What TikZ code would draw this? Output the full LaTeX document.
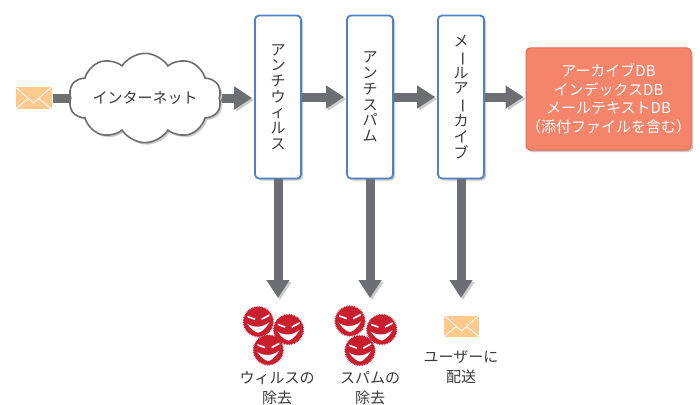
\documentclass[tikz,border=0pt]{standalone}
\usepackage{fontspec}
\usepackage{graphicx}
\setmainfont{Noto Sans CJK JP}
\usetikzlibrary{arrows.meta,shapes.symbols,decorations.pathmorphing,shadows}

\definecolor{arrowgray}{HTML}{6D6E71}
\definecolor{shadowgray}{HTML}{CBCBCB}
\definecolor{boxblue}{HTML}{4F81C7}
\definecolor{dbfill}{HTML}{F4846A}
\definecolor{dbline}{HTML}{E8684E}
\definecolor{mailfill}{HTML}{FDC98C}
\definecolor{virusred}{HTML}{C81E2D}
\definecolor{textgray}{HTML}{3A3A3A}

% vertical long-vowel mark for stacked (vertical) katakana
\newcommand\vchoon{\makebox[1em]{\rotatebox[origin=c]{-90}{ー}}}

\pgfdeclarelayer{bg}
\pgfsetlayers{bg,main}

\tikzset{
  softshadow/.style={drop shadow={shadow xshift=2pt, shadow yshift=-2pt, fill=shadowgray, opacity=1}},
  stagebox/.style={draw=boxblue, line width=1.8pt, fill=white, rounded corners=4pt,
    minimum width=46pt, minimum height=163pt, inner sep=0pt, softshadow,
    text=textgray, align=center, font=\fontsize{15}{15.7}\selectfont},
  dbbox/.style={draw=dbline, line width=1pt, fill=dbfill, rounded corners=4pt,
    minimum width=163pt, minimum height=102pt, inner sep=0pt, softshadow,
    text=white, align=center, font=\fontsize{15}{18.5}\selectfont},
  netcloud/.style={cloud, cloud puffs=10, cloud puff arc=115, aspect=2.2,
    minimum width=145pt, minimum height=67pt, inner sep=0pt,
    draw=arrowgray, line width=1.6pt, fill=white, softshadow,
    text=textgray, font=\fontsize{15}{18}\selectfont},
  flow/.style={arrowgray, line width=9pt, -{Triangle[length=18pt,width=22pt]},
    preaction={draw=shadowgray, transform canvas={shift={(2pt,-2pt)}}}},
  envelope/.style={fill=mailfill, draw=white, line width=0.4pt, minimum width=37pt, minimum height=23pt, inner sep=0pt,
    path picture={
      \draw[white, line width=0.9pt]
        (path picture bounding box.north west)
        -- ([yshift=-5pt]path picture bounding box.center)
        -- (path picture bounding box.north east);
      \draw[white, line width=0.9pt]
        (path picture bounding box.south west) -- ([xshift=-6pt,yshift=-1pt]path picture bounding box.center);
      \draw[white, line width=0.9pt]
        (path picture bounding box.south east) -- ([xshift=6pt,yshift=-1pt]path picture bounding box.center);
    }},
  caption/.style={text=textgray, align=center, font=\fontsize{15}{20}\selectfont, inner sep=0pt},
  virus/.pic={
    \fill[virusred, decorate, decoration={zigzag, segment length=1.7pt, amplitude=0.8pt}] (0,0) circle (15);
    \fill[white] (-11,-6) -- (-3,-3.2) -- (-3.5,-1.6) -- (-10.5,-4.2) -- cycle;
    \fill[white] (3,-3.2) -- (11,-7.5) -- (11,-5.6) -- (3.5,-1.6) -- cycle;
    \fill[white] (-11,2) .. controls (-4,6.5) and (4,6) .. (11,0.5)
      .. controls (6,9) and (2,10.5) .. (0,11) .. controls (-3,10.5) and (-7,8) .. cycle;
  }
}

\begin{document}
\begin{tikzpicture}[x=1pt, y=-1pt]
\useasboundingbox (0,0) rectangle (700,404);

% incoming mail and the internet
\node[envelope] (mailin) at (33.5,98) {};
\node[netcloud] (net) at (145,98) {インターネット};

% filtering and archiving stages
\node[stagebox] (antivirus) at (278,97) {ア\\ン\\チ\\ウ\\ィ\\ル\\ス};
\node[stagebox] (antispam) at (370,97) {ア\\ン\\チ\\ス\\パ\\ム};
\node[stagebox] (archive) at (461,97) {メ\\\vchoon\\ル\\ア\\\vchoon\\カ\\イ\\ブ};

% archive databases
\node[dbbox] (db) at (608.5,99) {アーカイブDB\\インデックスDB\\メールテキストDB\\（添付ファイルを含む）};

% results of each stage
\coordinate (virusend) at (278,298);
\coordinate (spamend) at (370,298);
\coordinate (mailend) at (461,298);

\pic at (258.3,321.7) {virus};
\pic at (288.5,329.5) {virus};
\pic at (268.3,350) {virus};
\pic at (350,321) {virus};
\pic at (381.7,329.5) {virus};
\pic at (360,350.5) {virus};

\node[envelope, minimum width=36pt, minimum height=22pt] (mailout) at (461.5,326) {};

\node[caption] (virusdone) at (277,388) {ウィルスの\\除去};
\node[caption] (spamdone) at (370,388) {スパムの\\除去};
\node[caption] (delivered) at (461,367.5) {ユーザーに\\配送};

% connectors
\begin{pgfonlayer}{bg}
  \draw[flow, shorten >=2pt] (mailin.east) -- (mailin.east -| antivirus.west);
\end{pgfonlayer}
\draw[flow, shorten >=2pt] (antivirus.east) -- (antispam.west);
\draw[flow, shorten >=2pt] (antispam.east) -- (archive.west);
\draw[flow, shorten >=2pt] (archive.east) -- (archive.east -| db.west);
\draw[flow] (antivirus.south) -- (virusend);
\draw[flow] (antispam.south) -- (spamend);
\draw[flow] (archive.south) -- (mailend);
\end{tikzpicture}
\end{document}
